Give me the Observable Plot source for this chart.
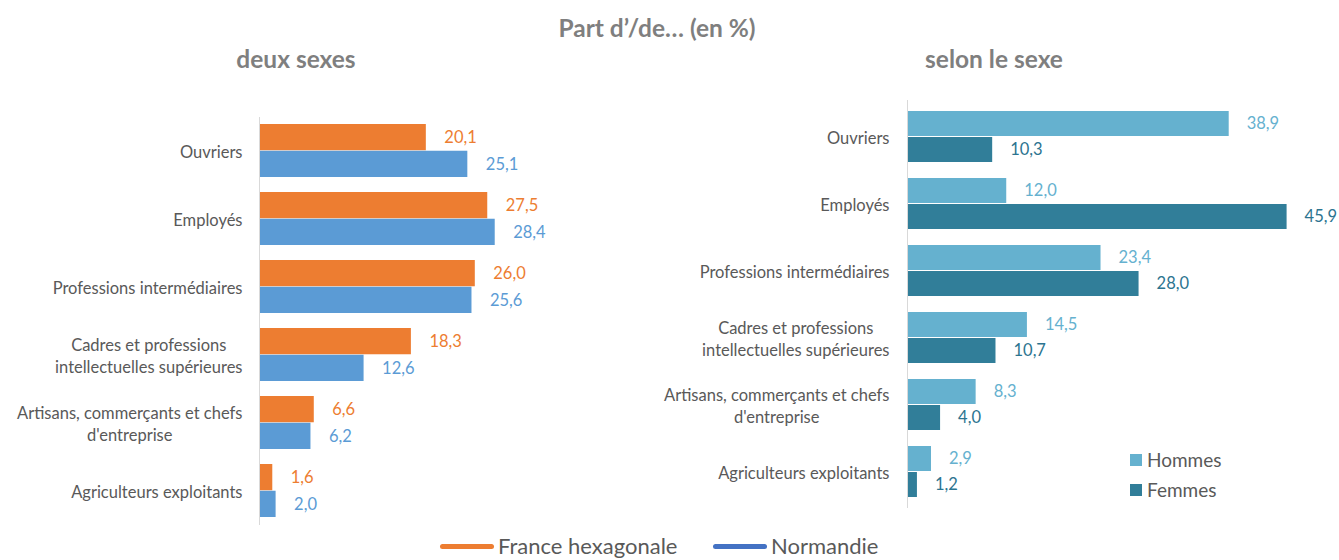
<!DOCTYPE html>
<html><head><meta charset="utf-8">
<script src="https://cdn.jsdelivr.net/npm/d3@7"></script>
<script src="https://cdn.jsdelivr.net/npm/@observablehq/plot@0.6"></script>
<style>
body{margin:0;background:#fff;font-family:Lato,"Open Sans",sans-serif;}
#wrap{position:relative;width:1339px;height:560px;overflow:hidden;background:#fff;}
.t{position:absolute;font-weight:bold;color:#7f7f7f;font-size:24.5px;white-space:nowrap;transform:translate(-50%,-50%);}
.chart{position:absolute;top:0;}
.leg{position:absolute;color:#595959;white-space:nowrap;display:flex;align-items:center;}
.line{display:inline-block;width:54px;height:5px;border-radius:3px;margin-right:4px;}
.sq{display:inline-block;width:12px;height:12px;margin-right:5px;}
</style></head>
<body>
<div id="wrap">
  <div class="t" style="left:657px;top:27px">Part d’/de… (en %)</div>
  <div class="t" style="left:296px;top:58px">deux sexes</div>
  <div class="t" style="left:994px;top:58px">selon le sexe</div>
  <div id="left" class="chart" style="left:0px"></div>
  <div id="right" class="chart" style="left:660px"></div>
  <div class="leg" style="left:440px;top:535px;font-size:22px;line-height:22px"><span class="line" style="background:#ED7D31"></span>France hexagonale</div>
  <div class="leg" style="left:713px;top:535px;font-size:22px;line-height:22px"><span class="line" style="background:#4472C4"></span>Normandie</div>
  <div class="leg" style="left:1130px;top:448px;font-size:19px"><span class="sq" style="background:#65B1CF"></span>Hommes</div>
  <div class="leg" style="left:1130px;top:478px;font-size:19px"><span class="sq" style="background:#317E99"></span>Femmes</div>
</div>
<script>
const categories = ["Ouvriers","Employés","Professions intermédiaires","Cadres et professions intellectuelles supérieures","Artisans, commerçants et chefs d'entreprise","Agriculteurs exploitants"];
const categoryLabels = ["Ouvriers","Employés","Professions intermédiaires","Cadres et professions\nintellectuelles supérieures","Artisans, commerçants et chefs\nd'entreprise","Agriculteurs exploitants"];
const franceHexagonale = [20.1,27.5,26.0,18.3,6.6,1.6];
const normandie = [25.1,28.4,25.6,12.6,6.2,2.0];
const hommes = [38.9,12.0,23.4,14.5,8.3,2.9];
const femmes = [10.3,45.9,28.0,10.7,4.0,1.2];

const fmt = v => v.toFixed(1).replace(".", ",");
const FONT = "Lato, 'Open Sans', sans-serif";
const canvas = document.createElement("canvas");
const ctx = canvas.getContext("2d");
function measure(s, size){ ctx.font = size + "px Lato"; return ctx.measureText(s).width; }

function chart(opts){
  const {width, marginLeft, ppu, D, pi, po, pad, a, b, labelSize} = opts;
  const H = 560;
  const n = categories.length;
  const range = H - opts.marginTop - opts.marginBottom;
  const step = range / (n - pi + 2*po);
  const bw = step * (1 - pi);
  const rowsA = categories.map((c,i)=>({cat:c, v:a.values[i]}));
  const rowsB = categories.map((c,i)=>({cat:c, v:b.values[i]}));
  const marks = [
    Plot.barX(rowsA, {y:"cat", x:"v", fill:a.color, insetBottom: bw/2, insetTop:0}),
    Plot.barX(rowsB, {y:"cat", x:"v", fill:b.color, insetTop: bw/2, insetBottom:0}),
    Plot.ruleX([0], {stroke:"#d9d9d9", strokeWidth:1}),
    Plot.text(rowsA, {y:"cat", x:"v", text:d=>fmt(d.v), dx:opts.dx, dy:-bw/4, textAnchor:"start", fill:a.text, fontSize:16.5}),
    Plot.text(rowsB, {y:"cat", x:"v", text:d=>fmt(d.v), dx:opts.dx, dy:bw/4, textAnchor:"start", fill:b.text, fontSize:16.5})
  ];
  categories.forEach((c,i)=>{
    const lines = categoryLabels[i].split("\n");
    const w = Math.max(...lines.map(l=>measure(l, labelSize)));
    marks.push(Plot.text([c], {y:d=>d, frameAnchor:"left", dx:-(pad + w/2), textAnchor:"middle", text:()=>categoryLabels[i], fill:"#595959", fontSize:labelSize, lineHeight:1.35}));
  });
  return Plot.plot({
    width, height:H, marginLeft, marginRight:0, marginTop:opts.marginTop, marginBottom:opts.marginBottom,
    x:{domain:[0,D], range:[marginLeft, marginLeft + D*ppu], axis:null},
    y:{domain:categories, paddingInner:pi, paddingOuter:po, axis:null},
    style:{fontFamily:FONT, overflow:"visible", background:"transparent"},
    marks
  });
}

document.getElementById("left").appendChild(chart({
  width:660, marginLeft:259, marginTop:117, marginBottom:35, ppu:8.3, D:40, pi:0.217, po:0.095, pad:17, dx:18, labelSize:16.5,
  a:{values:franceHexagonale, color:"#ED7D31", text:"#ED7D31"},
  b:{values:normandie, color:"#5B9BD5", text:"#5B9BD5"}
}));
document.getElementById("right").appendChild(chart({
  width:679, marginLeft:247, marginTop:100, marginBottom:52, ppu:8.27, D:50, pi:0.235, po:0.118, pad:18, dx:17.5, labelSize:16.5,
  a:{values:hommes, color:"#65B1CF", text:"#65B1CF"},
  b:{values:femmes, color:"#317E99", text:"#2C7490"}
}));
</script>
</body></html>
